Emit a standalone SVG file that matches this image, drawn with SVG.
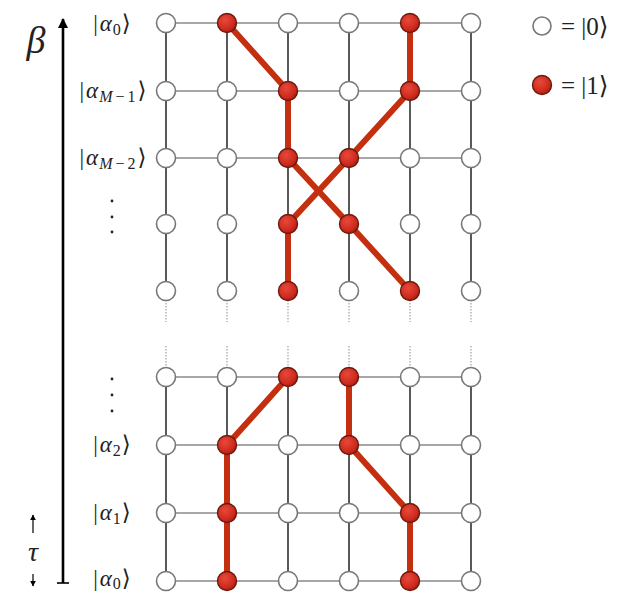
<svg xmlns="http://www.w3.org/2000/svg" width="627" height="593" viewBox="0 0 627 593">
<defs>
<radialGradient id="rg" cx="0.4" cy="0.35" r="0.7">
<stop offset="0" stop-color="#e8483a"/>
<stop offset="0.7" stop-color="#cc2a1c"/>
<stop offset="1" stop-color="#a31a10"/>
</radialGradient>
<marker id="ah" viewBox="0 0 10 10" refX="9" refY="5" markerWidth="4" markerHeight="4" orient="auto-start-reverse">
<path d="M0,0 L10,5 L0,10 z" fill="#000"/>
</marker>
<marker id="ahs" viewBox="0 0 10 10" refX="9" refY="5" markerWidth="5" markerHeight="5" orient="auto-start-reverse">
<path d="M0,0 L10,5 L0,10 z" fill="#000"/>
</marker>
</defs>
<style>
.h{stroke:#8a8a8a;stroke-width:1.3;fill:none}
.v{stroke:#000;stroke-width:1.3;fill:none}
.d{stroke:#999;stroke-width:1.1;stroke-dasharray:1.5 1.5;fill:none}
.p{stroke:#c4300f;stroke-width:6;fill:none;stroke-linecap:round}
.w{fill:#fff;stroke:#777;stroke-width:1.6}
.r{fill:url(#rg);stroke:#6b1a10;stroke-width:1.4}
.lab{font-family:"Liberation Serif","DejaVu Serif",serif;font-size:23px;fill:#222}
.it{font-style:italic}
.sub{font-size:16px}
.dot{fill:#222}
</style>
<rect width="627" height="593" fill="#fff"/>
<g id="connectors">
<path class="h" d="M166,23H471M166,91H471M166,158H471M166,377H471M166,445H471M166,513H471M166,581H471"/>
<path class="v" d="M166,23V291M227,23V291M288,23V291M349,23V291M410,23V291M471,23V291M166,377V581M227,377V581M288,377V581M349,377V581M410,377V581M471,377V581"/>
<path class="d" d="M166,300V322M227,300V322M288,300V322M349,300V322M410,300V322M471,300V322M166,346V368M227,346V368M288,346V368M349,346V368M410,346V368M471,346V368"/>
<path class="p" d="M227,23L288,91L288,158L349,224L410,291"/>
<path class="p" d="M410,23L410,91L349,158L288,224L288,291"/>
<path class="p" d="M288,377L227,445L227,581"/>
<path class="p" d="M349,377L349,445L410,513L410,581"/>
</g>
<g id="nodes">
<g id="row0"><circle class="w" cx="166" cy="23" r="9.5"/><circle class="r" cx="227" cy="23" r="9.5"/><circle class="w" cx="288" cy="23" r="9.5"/><circle class="w" cx="349" cy="23" r="9.5"/><circle class="r" cx="410" cy="23" r="9.5"/><circle class="w" cx="471" cy="23" r="9.5"/></g>
<g id="row1"><circle class="w" cx="166" cy="91" r="9.5"/><circle class="w" cx="227" cy="91" r="9.5"/><circle class="r" cx="288" cy="91" r="9.5"/><circle class="w" cx="349" cy="91" r="9.5"/><circle class="r" cx="410" cy="91" r="9.5"/><circle class="w" cx="471" cy="91" r="9.5"/></g>
<g id="row2"><circle class="w" cx="166" cy="158" r="9.5"/><circle class="w" cx="227" cy="158" r="9.5"/><circle class="r" cx="288" cy="158" r="9.5"/><circle class="r" cx="349" cy="158" r="9.5"/><circle class="w" cx="410" cy="158" r="9.5"/><circle class="w" cx="471" cy="158" r="9.5"/></g>
<g id="row3"><circle class="w" cx="166" cy="224" r="9.5"/><circle class="w" cx="227" cy="224" r="9.5"/><circle class="r" cx="288" cy="224" r="9.5"/><circle class="r" cx="349" cy="224" r="9.5"/><circle class="w" cx="410" cy="224" r="9.5"/><circle class="w" cx="471" cy="224" r="9.5"/></g>
<g id="row4"><circle class="w" cx="166" cy="291" r="9.5"/><circle class="w" cx="227" cy="291" r="9.5"/><circle class="r" cx="288" cy="291" r="9.5"/><circle class="w" cx="349" cy="291" r="9.5"/><circle class="r" cx="410" cy="291" r="9.5"/><circle class="w" cx="471" cy="291" r="9.5"/></g>
<g id="row5"><circle class="w" cx="166" cy="377" r="9.5"/><circle class="w" cx="227" cy="377" r="9.5"/><circle class="r" cx="288" cy="377" r="9.5"/><circle class="r" cx="349" cy="377" r="9.5"/><circle class="w" cx="410" cy="377" r="9.5"/><circle class="w" cx="471" cy="377" r="9.5"/></g>
<g id="row6"><circle class="w" cx="166" cy="445" r="9.5"/><circle class="r" cx="227" cy="445" r="9.5"/><circle class="w" cx="288" cy="445" r="9.5"/><circle class="r" cx="349" cy="445" r="9.5"/><circle class="w" cx="410" cy="445" r="9.5"/><circle class="w" cx="471" cy="445" r="9.5"/></g>
<g id="row7"><circle class="w" cx="166" cy="513" r="9.5"/><circle class="r" cx="227" cy="513" r="9.5"/><circle class="w" cx="288" cy="513" r="9.5"/><circle class="w" cx="349" cy="513" r="9.5"/><circle class="r" cx="410" cy="513" r="9.5"/><circle class="w" cx="471" cy="513" r="9.5"/></g>
<g id="row8"><circle class="w" cx="166" cy="581" r="9.5"/><circle class="r" cx="227" cy="581" r="9.5"/><circle class="w" cx="288" cy="581" r="9.5"/><circle class="w" cx="349" cy="581" r="9.5"/><circle class="r" cx="410" cy="581" r="9.5"/><circle class="w" cx="471" cy="581" r="9.5"/></g>
</g>
<g id="labels" class="lab" text-anchor="middle">
<text x="112" y="31">|<tspan class="it" dx="2">α</tspan><tspan class="sub" dy="4" dx="1">0</tspan><tspan dy="-4" dx="1">⟩</tspan></text>
<text x="113" y="98">|<tspan class="it" dx="2">α</tspan><tspan class="sub it" dy="4" dx="1">M</tspan><tspan class="sub" dx="3">−</tspan><tspan class="sub" dx="3">1</tspan><tspan dy="-4" dx="2">⟩</tspan></text>
<text x="113" y="165">|<tspan class="it" dx="2">α</tspan><tspan class="sub it" dy="4" dx="1">M</tspan><tspan class="sub" dx="3">−</tspan><tspan class="sub" dx="3">2</tspan><tspan dy="-4" dx="2">⟩</tspan></text>
<text x="112" y="452">|<tspan class="it" dx="2">α</tspan><tspan class="sub" dy="4" dx="1">2</tspan><tspan dy="-4" dx="1">⟩</tspan></text>
<text x="112" y="520">|<tspan class="it" dx="2">α</tspan><tspan class="sub" dy="4" dx="1">1</tspan><tspan dy="-4" dx="1">⟩</tspan></text>
<text x="112" y="586">|<tspan class="it" dx="2">α</tspan><tspan class="sub" dy="3" dx="1">0</tspan><tspan dy="-3" dx="1">⟩</tspan></text>
</g>
<g id="vdots">
<circle class="dot" cx="112" cy="201" r="1.4"/><circle class="dot" cx="112" cy="217" r="1.4"/><circle class="dot" cx="112" cy="232" r="1.4"/>
<circle class="dot" cx="112" cy="379" r="1.4"/><circle class="dot" cx="112" cy="395" r="1.4"/><circle class="dot" cx="112" cy="411" r="1.4"/>
</g>
<g id="beta-axis">
<line x1="63" y1="583" x2="63" y2="19" stroke="#000" stroke-width="2.6" marker-end="url(#ah)"/>
<line x1="57" y1="583" x2="69" y2="583" stroke="#000" stroke-width="1.6"/>
<text x="36" y="53" text-anchor="middle" font-family="Liberation Serif, DejaVu Serif, serif" font-style="italic" font-size="38" fill="#222">β</text>
</g>
<g id="tau">
<line x1="33" y1="533" x2="33" y2="515" stroke="#000" stroke-width="1.2" marker-end="url(#ahs)"/>
<line x1="33" y1="574" x2="33" y2="586" stroke="#000" stroke-width="1.2" marker-end="url(#ahs)"/>
<text x="33" y="561" text-anchor="middle" font-family="Liberation Serif, DejaVu Serif, serif" font-style="italic" font-size="28" fill="#222">τ</text>
</g>
<g id="legend">
<circle class="w" cx="542" cy="26" r="9"/>
<text x="561" y="35" font-family="Liberation Serif, DejaVu Serif, serif" font-size="25" fill="#222">= |0⟩</text>
<circle class="r" cx="542" cy="85" r="9.5"/>
<text x="561" y="94" font-family="Liberation Serif, DejaVu Serif, serif" font-size="25" fill="#222">= |1⟩</text>
</g>
</svg>
